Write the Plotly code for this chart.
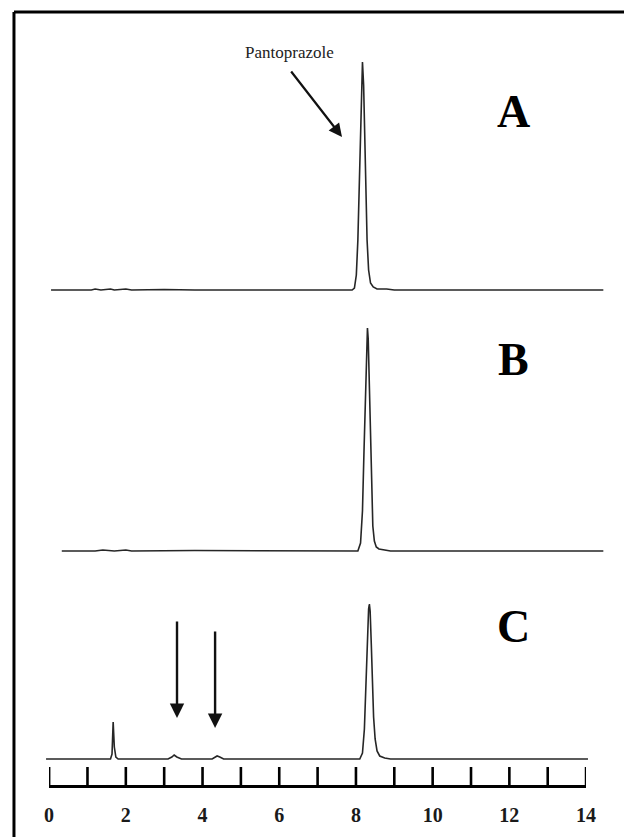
import plotly.graph_objects as go

# chromatogram A (retention time, min / detector response, arbitrary units)
a_time = [0.05, 1.1, 1.2, 1.35, 1.6, 1.7, 2.0, 2.15, 3.0, 3.8, 6.0, 7.9, 7.96, 8.01, 8.05, 8.08,
          8.11, 8.14, 8.17, 8.20, 8.23, 8.26, 8.29, 8.33, 8.38, 8.45, 8.55, 8.8, 9.0, 14.45]
a_resp = [0, 0, 1, 0, 1, 0, 1, 0, 0.5, 0, 0, 0, 2, 15, 50, 100,
          160, 210, 228, 205, 150, 95, 50, 20, 7, 3, 1, 1, 0, 0]

# chromatogram B
b_time = [0.33, 1.2, 1.4, 1.7, 2.0, 2.15, 3.8, 6.0, 8.05, 8.12, 8.17, 8.21, 8.25, 8.28,
          8.30, 8.32, 8.35, 8.38, 8.41, 8.44, 8.48, 8.53, 8.6, 8.75, 8.9, 14.45]
b_resp = [0, 0, 1, 0, 1, 0, 0.5, 0, 0, 8, 40, 100, 170, 215,
          223, 212, 160, 100, 55, 25, 10, 4, 2, 1, 0, 0]

# chromatogram C
c_time = [-0.08, 1.0, 1.5, 1.60, 1.64, 1.67, 1.70, 1.74, 1.8, 3.1, 3.2, 3.26, 3.33, 3.45,
          4.25, 4.32, 4.38, 4.45, 4.55, 8.10, 8.17, 8.22, 8.26, 8.30, 8.33, 8.35, 8.37,
          8.40, 8.43, 8.46, 8.50, 8.55, 8.62, 8.75, 8.9, 14.05]
c_resp = [0, 0, 0, 0, 5, 37, 12, 2, 0, 0, 2, 4, 2, 0,
          0, 2, 3, 2, 0, 0, 6, 30, 75, 125, 150, 155, 148,
          115, 75, 42, 20, 8, 3, 1, 0, 0]

ruler_ticks = list(range(0, 15))
ruler_labels = [str(t) if t % 2 == 0 else "" for t in ruler_ticks]

panel_names = ["A", "B", "C"]

# the page body has an 8px margin, so every position is given in page pixels
# and shifted back by OFF inside the figure
OFF = 8
W, H = 632, 837
AXIS_Y = 785 - OFF          # figure row of the time ruler
PX_PER_MIN = 550 / 14
X0 = 45 - OFF               # figure column of t = 0


def frac(py):
    return (AXIS_Y - (py - OFF)) / AXIS_Y


def x2(px):
    return (px - OFF - X0) / PX_PER_MIN


line = dict(color="#262626", width=1.6)
fig = go.Figure()
fig.add_trace(go.Scatter(x=a_time, y=a_resp, mode="lines", line=line, xaxis="x2", yaxis="y"))
fig.add_trace(go.Scatter(x=b_time, y=b_resp, mode="lines", line=line, xaxis="x2", yaxis="y2"))
fig.add_trace(go.Scatter(x=c_time, y=c_resp, mode="lines", line=line, xaxis="x2", yaxis="y3"))

# ruler tick marks (upright bars on the time axis)
tick_x, tick_y = [], []
for t in ruler_ticks:
    tick_x += [t, t, None]
    tick_y += [-26, -8, None]
fig.add_trace(go.Scatter(x=tick_x, y=tick_y, mode="lines", line=dict(color="black", width=2.6),
                         xaxis="x", yaxis="y3", hoverinfo="skip", cliponaxis=False))

hidden = dict(visible=False, showgrid=False, zeroline=False)
fig.update_layout(
    width=W, height=H, showlegend=False,
    margin=dict(l=0, r=0, t=0, b=H - AXIS_Y),
    paper_bgcolor="white", plot_bgcolor="rgba(0,0,0,0)",
    xaxis=dict(domain=[X0 / W, (X0 + 14 * PX_PER_MIN) / W], range=[0, 14], anchor="y3",
               showline=True, linecolor="black", linewidth=3, mirror=False, ticks="",
               tickvals=ruler_ticks, ticktext=ruler_labels, showgrid=False, zeroline=False,
               tickfont=dict(family="Liberation Serif", size=20, color="#1a1a1a", weight="bold"),
               ticklabelstandoff=10),
    xaxis2=dict(domain=[0, 1], range=[x2(OFF), x2(OFF + W)], anchor="y3", **hidden),
    # each panel in pixel units above its own baseline
    yaxis=dict(domain=[frac(300), frac(40)], range=[-10, 250], **hidden),
    yaxis2=dict(domain=[frac(560), frac(310)], range=[-9, 241], **hidden),
    yaxis3=dict(domain=[0, frac(570)], range=[-26, 189], **hidden),
)

# panel letters
serif_bold = dict(family="Liberation Serif", size=46, color="black")
for name, yref, yv in zip(panel_names, ["y", "y2", "y3"], [179, 192, 133]):
    fig.add_annotation(x=x2(521), y=yv, xref="x2", yref=yref, text="<b>%s</b>" % name,
                       showarrow=False, font=serif_bold)

# Pantoprazole label and arrow
fig.add_annotation(x=x2(291), y=237, xref="x2", yref="y", text="Pantoprazole",
                   showarrow=False, font=dict(family="Liberation Serif", size=17, color="#222"))
fig.add_annotation(x=x2(345), y=290 - 137, xref="x2", yref="y", text="", showarrow=True,
                   ax=-52, ay=-67, arrowhead=2, arrowsize=1.2, arrowwidth=2.2, arrowcolor="#111")

# arrows marking the small peaks in C
for px, tip in [(176, 718), (215, 728)]:
    fig.add_annotation(x=x2(px), y=759 - tip, xref="x2", yref="y3", text="", showarrow=True,
                       ax=0, ay=-98, arrowhead=2, arrowsize=1.2, arrowwidth=2.4, arrowcolor="#111")

# image frame (top and left edges)
fig.add_shape(type="line", xref="paper", yref="paper", x0=1 / W, x1=1, y0=frac(12), y1=frac(12),
              line=dict(color="black", width=3))
fig.add_shape(type="line", xref="paper", yref="paper", x0=1 / W, x1=1 / W, y0=frac(12),
              y1=frac(845), line=dict(color="black", width=3))

fig.write_html("out.html")
